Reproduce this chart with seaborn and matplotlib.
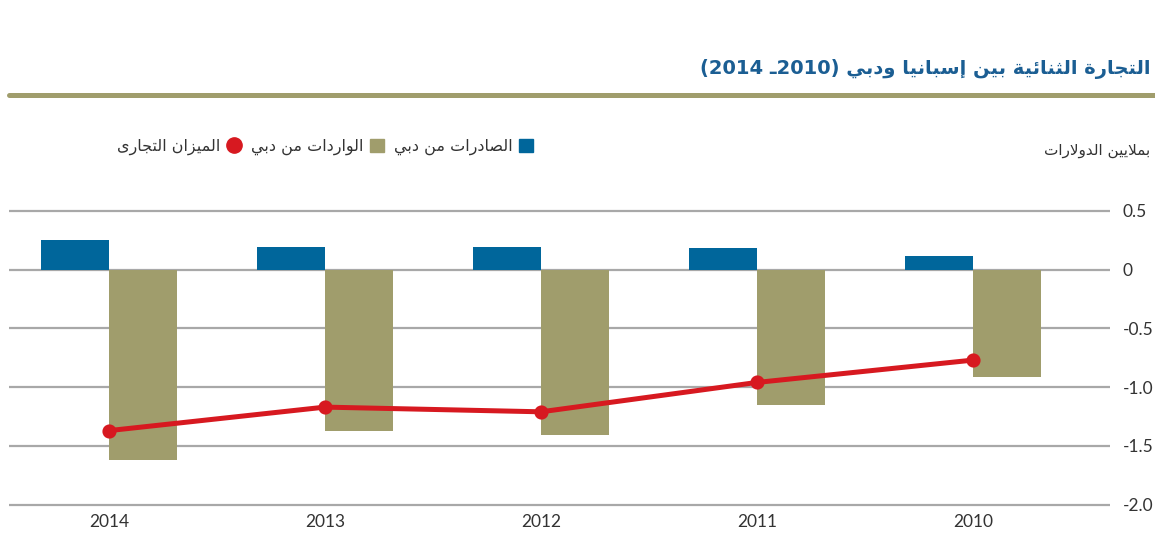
import matplotlib
matplotlib.use('Agg')
import matplotlib.pyplot as plt
import seaborn as sns
import pandas as pd
from matplotlib.lines import Line2D
from matplotlib.patches import Patch

# Values (millions of dollars)
years = ['2014', '2013', '2012', '2011', '2010']
exports = [0.25, 0.19, 0.19, 0.18, 0.12]
imports = [-1.62, -1.37, -1.41, -1.15, -0.91]
balance = [-1.37, -1.17, -1.21, -0.96, -0.77]
y_ticks = [0.5, 0, -0.5, -1.0, -1.5, -2.0]
y_tick_labels = ['0.5', '0', '-0.5', '-1.0', '-1.5', '-2.0']

title_ar = 'التجارة الثنائية بين إسبانيا ودبي'
title_years = '(2014 ـ2010)'  # already in visual (left-to-right) order
unit_ar = 'بملايين الدولارات'
lbl_exports = 'الصادرات من دبي'
lbl_imports = 'الواردات من دبي'
lbl_balance = 'الميزان التجارى'

blue = '#00669b'
olive = '#a09d6c'
red = '#d71920'
title_blue = '#1b5e93'
grid_gray = '#a8a8a8'
text_gray = '#333333'


# matplotlib has no Arabic shaping, so pick the contextual forms by hand
# and reverse the string for right-to-left display
_letters = [chr(c) for c in range(0x0621, 0x063B)] + [chr(c) for c in range(0x0641, 0x064B)]
_counts = [1, 2, 2, 2, 2, 4, 2, 4, 2, 4, 4, 4, 4, 4, 2, 2, 2, 2, 4, 4, 4, 4, 4, 4, 4, 4,
           4, 4, 4, 4, 4, 4, 4, 2, 2, 4]
FORMS = {}
_code = 0xFE80
for ch, n in zip(_letters, _counts):
    FORMS[ch] = [chr(_code + k) for k in range(n)]
    _code += n
# lam-alef ligatures (iso, final)
LAM_ALEF = {'ا': ['\uFEFB', '\uFEFC'], 'أ': ['\uFEF7', '\uFEF8'],
            'إ': ['\uFEF9', '\uFEFA'], 'آ': ['\uFEF5', '\uFEF6']}


def shape_ar(text):
    chars = []
    i = 0
    while i < len(text):
        if text[i] == 'ل' and i + 1 < len(text) and text[i + 1] in LAM_ALEF:
            chars.append(('LA', LAM_ALEF[text[i + 1]]))
            i += 2
        else:
            ch = text[i]
            chars.append((ch, FORMS.get(ch)))
            i += 1
    out = []
    for j, (ch, forms) in enumerate(chars):
        if forms is None:
            out.append(ch)
            continue
        prev = chars[j - 1] if j > 0 else None
        nxt = chars[j + 1] if j + 1 < len(chars) else None
        joins_prev = (len(forms) >= 2 and prev is not None and prev[1] is not None
                      and len(prev[1]) == 4)
        joins_next = (len(forms) == 4 and nxt is not None and nxt[1] is not None
                      and len(nxt[1]) >= 2)
        if joins_prev and joins_next:
            out.append(forms[3])
        elif joins_prev:
            out.append(forms[1])
        elif joins_next:
            out.append(forms[2])
        else:
            out.append(forms[0])
    return ''.join(out)[::-1]


sns.set_style('white')
plt.rcParams['font.family'] = ['Lato', 'DejaVu Sans']

fig = plt.figure(figsize=(11.55, 5.35), dpi=100)
ax = fig.add_axes([9 / 1155, 28 / 535, 1101 / 1155, 298.5 / 535])

df = pd.DataFrame({
    'year': years * 2,
    'value': exports + imports,
    'series': ['exports'] * len(years) + ['imports'] * len(years),
})
sns.barplot(data=df, x='year', y='value', hue='series', order=years,
            hue_order=['exports', 'imports'],
            palette={'exports': blue, 'imports': olive},
            width=0.63, gap=0, saturation=1, linewidth=0, legend=False, ax=ax)

sns.pointplot(x=years, y=balance, order=years, color=red, errorbar=None,
              markers='o', markersize=7.5, linewidth=3.6, ax=ax)

ax.set_xlim(-0.463, 4.634)
ax.set_ylim(-2.02, 0.52)
ax.set_yticks(y_ticks)
ax.set_yticklabels(y_tick_labels)
ax.yaxis.tick_right()
ax.grid(axis='y', color=grid_gray, linewidth=1.6)
ax.grid(axis='x', visible=False)
ax.set_axisbelow(True)
for s in ax.spines.values():
    s.set_visible(False)
ax.tick_params(axis='y', length=0, pad=9, labelsize=12.5, labelcolor=text_gray)
ax.tick_params(axis='x', length=0, pad=5, labelsize=12.5, labelcolor=text_gray)
ax.set_xlabel('')
ax.set_ylabel('')

# title and rule
fig.text(1150 / 1155, 1 - 69 / 535, title_years + ' ' + shape_ar(title_ar),
         ha='right', va='center', fontsize=14, fontweight='bold',
         color=title_blue, family='DejaVu Sans')
fig.add_artist(Line2D([9 / 1155, 1.0], [1 - 94.5 / 535] * 2, color=olive,
                      linewidth=3.6))

# unit label
fig.text(1150 / 1155, 1 - 150 / 535, shape_ar(unit_ar), ha='right', va='center',
         fontsize=11, color=text_gray, family='DejaVu Sans')

# legend, right to left
handles = [Line2D([], [], marker='o', color=red, linestyle='none', markersize=11),
           Patch(color=olive), Patch(color=blue)]
labels = [shape_ar(lbl_balance), shape_ar(lbl_imports), shape_ar(lbl_exports)]
fig.legend(handles=handles, labels=labels, loc='center right',
           bbox_to_anchor=(533 / 1155, 1 - 147 / 535), ncol=3, frameon=False,
           markerfirst=False, handlelength=0.9, handleheight=0.9,
           handletextpad=0.4, columnspacing=0.6, borderpad=0, borderaxespad=0,
           labelcolor=text_gray, prop={'family': 'DejaVu Sans', 'size': 11.5})

fig.savefig('out.png', dpi=100)
